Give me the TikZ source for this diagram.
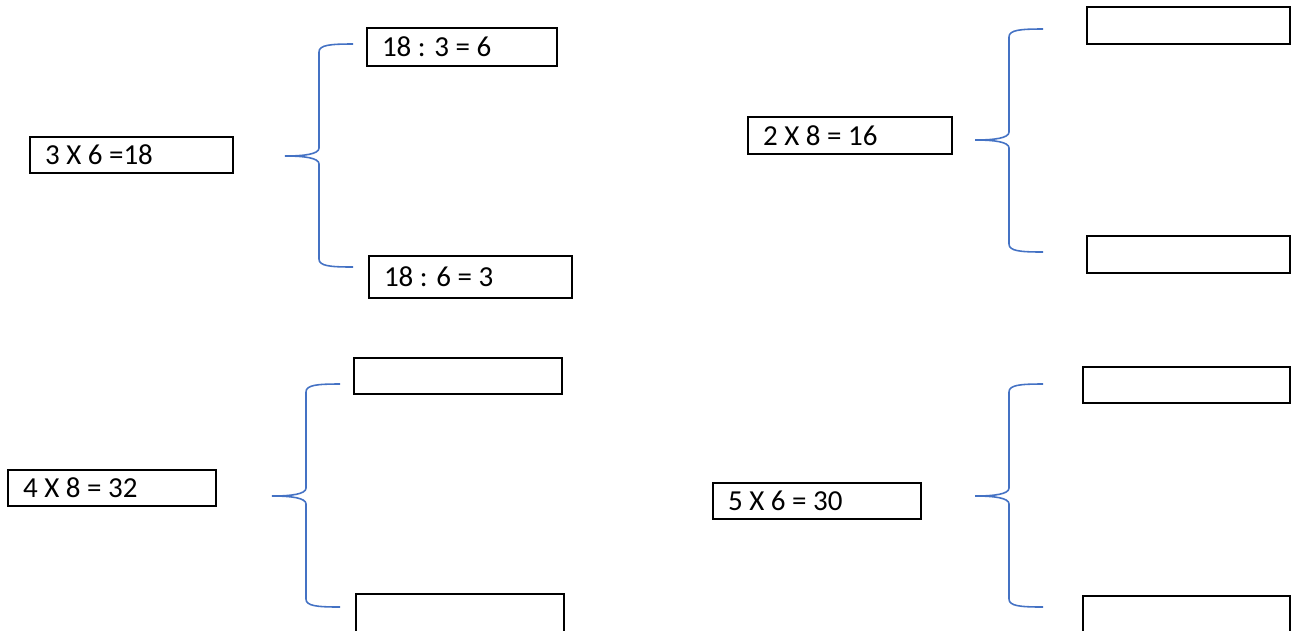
\documentclass[tikz,border=0pt]{standalone}
\usepackage{fontspec}
\setmainfont{Carlito}
\usetikzlibrary{positioning}
\definecolor{braceblue}{RGB}{68,114,196}
\tikzset{
    eqbox/.style={rectangle, draw, line width=1.1pt, inner xsep=0.3cm, inner ysep=0pt,
        align=flush left, font=\fontsize{16.5}{20}\selectfont},
    brace/.style={braceblue, line width=0.9pt}
}

\begin{document}
\begin{tikzpicture}[x=0.02cm, y=-0.02cm]
    \useasboundingbox (0,0) rectangle (1291,630);

    % top left
    \node[eqbox, text width=3.46cm, minimum height=0.72cm] (Q1) at (131.5,155) {3 X 6 =18};
    \node[eqbox, text width=3.2cm, minimum height=0.76cm] (Q1a) at (462,47) {18 : 3 = 6};
    \node[eqbox, text width=3.46cm, minimum height=0.84cm] (Q1b) at (470.5,277) {18 : 6 = 3};
    % top right
    \node[eqbox, text width=3.48cm, minimum height=0.74cm] (Q2) at (850,135.5) {2 X 8 = 16};
    \node[eqbox, text width=3.46cm, minimum height=0.74cm] (Q2a) at (1188.5,25.5) {};
    \node[eqbox, text width=3.46cm, minimum height=0.74cm] (Q2b) at (1188.5,254.5) {};
    % bottom left
    \node[eqbox, text width=3.56cm, minimum height=0.72cm] (Q3) at (112,488) {4 X 8 = 32};
    \node[eqbox, text width=3.56cm, minimum height=0.72cm] (Q3a) at (458,376) {};
    \node[eqbox, text width=3.56cm, minimum height=0.8cm] (Q3b) at (460,614) {};
    % bottom right
    \node[eqbox, text width=3.56cm, minimum height=0.72cm] (Q4) at (817,501) {5 X 6 = 30};
    \node[eqbox, text width=3.54cm, minimum height=0.72cm] (Q4a) at (1186.5,385) {};
    \node[eqbox, text width=3.54cm, minimum height=0.8cm] (Q4b) at (1186.5,616) {};

    % braces
    \coordinate (B1) at (285,156);
    \coordinate (B2) at (975,140);
    \coordinate (B3) at (272,496);
    \coordinate (B4) at (975,496);

    \draw[brace] (353,44) .. controls (330,44) and (319,45) .. (319,52) -- (319,148)
        .. controls (319,154) and (305,156) .. (B1)
        .. controls (305,156) and (319,158) .. (319,164) -- (319,259)
        .. controls (319,266) and (330,267) .. (353,267);
    \draw[brace] (1043,29) .. controls (1020,29) and (1009,30) .. (1009,37) -- (1009,132)
        .. controls (1009,138) and (995,140) .. (B2)
        .. controls (995,140) and (1009,142) .. (1009,148) -- (1009,244)
        .. controls (1009,251) and (1020,252) .. (1043,252);
    \draw[brace] (340,384) .. controls (317,384) and (306,385) .. (306,392) -- (306,488)
        .. controls (306,494) and (292,496) .. (B3)
        .. controls (292,496) and (306,498) .. (306,504) -- (306,599)
        .. controls (306,606) and (317,607) .. (340,607);
    \draw[brace] (1043,384) .. controls (1020,384) and (1009,385) .. (1009,392) -- (1009,488)
        .. controls (1009,494) and (995,496) .. (B4)
        .. controls (995,496) and (1009,498) .. (1009,504) -- (1009,599)
        .. controls (1009,606) and (1020,607) .. (1043,607);
\end{tikzpicture}
\end{document}
